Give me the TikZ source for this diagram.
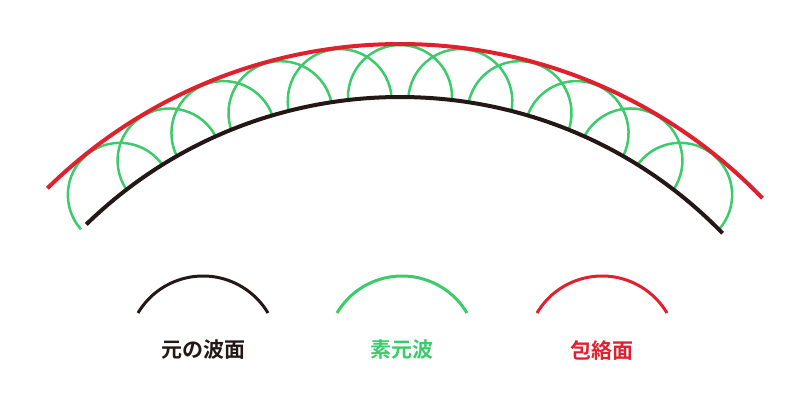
\documentclass[tikz,border=0pt]{standalone}
\usepackage{fontspec}
\usetikzlibrary{calc}
\newfontfamily\cjk{Noto Sans CJK JP Bold}
\definecolor{wblack}{HTML}{231815}
\definecolor{wred}{HTML}{E0202F}
\definecolor{wgreen}{HTML}{3CCB6A}
\begin{document}
\begin{tikzpicture}[x=1pt,y=1pt,
  blk/.style={draw=wblack,line width=4pt},
  rd/.style={draw=wred,line width=4pt},
  gr/.style={draw=wgreen,line width=2.5pt},
  lbl/.style={font=\cjk\fontsize{21}{25}\selectfont}]
\useasboundingbox (0,0) rectangle (800,400);
\coordinate (c) at (400,-147);
\foreach \a in {128.5,120.8,113.1,105.4,97.7,90,82.3,74.6,66.9,59.2,51.5}{
  \draw[gr] ($(c)+(\a:450)+(\a-93:52)$) arc[start angle=\a-93,end angle=\a+93,radius=52];
}
\draw[blk] ($(c)+(134.2:450)$) arc[start angle=134.2,end angle=44.2,radius=450];
\draw[rd] ($(c)+(134.5:503)$) arc[start angle=134.5,end angle=43.9,radius=503];
\draw[blk,line width=3pt] ($(203,48.4)+(149.3:75.6)$) arc[start angle=149.3,end angle=30.7,radius=75.6];
\draw[gr,line width=3pt] ($(402,48.4)+(149.3:75.6)$) arc[start angle=149.3,end angle=30.7,radius=75.6];
\draw[rd,line width=3pt] ($(602,48.4)+(149.3:75.6)$) arc[start angle=149.3,end angle=30.7,radius=75.6];
\node[lbl,text=wblack] (l1) at (203,50) {元の波面};
\node[lbl,text=wgreen] (l2) at (402,50) {素元波};
\node[lbl,text=wred] (l3) at (602,50) {包絡面};
\end{tikzpicture}
\end{document}
